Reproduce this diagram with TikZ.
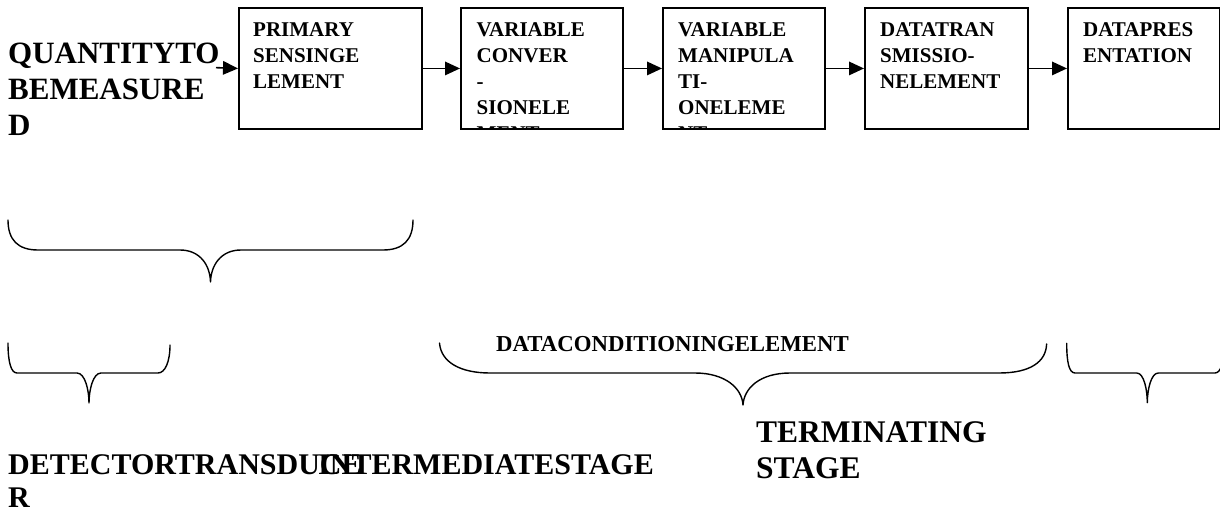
\documentclass[tikz,border=0pt]{standalone}
\usepackage{fontspec}
\setmainfont{Liberation Serif}
\usetikzlibrary{arrows.meta,calc}
\begin{document}
\begin{tikzpicture}[x=1pt,y=-1pt,
  blk/.style={draw, line width=1.6pt, rectangle, anchor=north west, minimum height=120.7pt, inner sep=0pt},
  boxtext/.style={anchor=north west, inner sep=0pt, align=left, font=\bfseries\fontsize{21}{26}\selectfont},
  bigtext/.style={anchor=north west, inner sep=0pt, align=left, font=\bfseries\fontsize{31}{36}\selectfont},
  flow/.style={line width=1.6pt, -{Triangle[length=15pt,width=13.5pt]}},
  brace/.style={line width=1.4pt, line cap=round, line join=round}]
\useasboundingbox (0,0) rectangle (1220,514);
\clip (0,0) rectangle (1220,514);
\fill[white] (0,0) rectangle (1220,514);

% boxes
\node[blk, minimum width=183pt] (b1) at (238,7.3) {};
\node[blk, minimum width=162pt] (b2) at (460,7.3) {};
\node[blk, minimum width=162pt] (b3) at (662,7.3) {};
\node[blk, minimum width=163pt] (b4) at (864,7.3) {};
\node[blk, minimum width=152pt] (b5) at (1067,7.3) {};

% box texts (clipped to their boxes)
\begin{scope}
\clip (b1.north west) rectangle (b1.south east);
\node[boxtext] (t1) at ($(b1.north west)+(15,15)$) {PRIMARY\\SENSINGE\\LEMENT};
\end{scope}
\begin{scope}
\clip (b2.north west) rectangle (b2.south east);
\node[boxtext] (t2) at ($(b2.north west)+(16.5,15)$) {VARIABLE\\CONVER\\-\\SIONELE\\MENT};
\end{scope}
\begin{scope}
\clip (b3.north west) rectangle (b3.south east);
\node[boxtext] (t3) at ($(b3.north west)+(16,15)$) {VARIABLE\\MANIPULA\\TI-\\ONELEME\\NT};
\end{scope}
\begin{scope}
\clip (b4.north west) rectangle (b4.south east);
\node[boxtext] (t4) at ($(b4.north west)+(16,15)$) {DATATRAN\\SMISSIO-\\NELEMENT};
\end{scope}
\begin{scope}
\clip (b5.north west) rectangle (b5.south east);
\node[boxtext] (t5) at ($(b5.north west)+(16,15)$) {DATAPRES\\ENTATION};
\end{scope}

% input label
\node[bigtext] (q) at (8,43) {QUANTITYTO\\BEMEASURE\\D};
\coordinate (qa) at (216,67.65);

% arrows
\draw[flow] (qa) -- (b1.west);
\draw[flow] (b1.east) -- (b2.west);
\draw[flow] (b2.east) -- (b3.west);
\draw[flow] (b3.east) -- (b4.west);
\draw[flow] (b4.east) -- (b5.west);

% big upper brace
\draw[brace] (8,220) .. controls (8,240) and (18,250) .. (38,250) -- (180,250)
  .. controls (200,250) and (210,265) .. (210.5,282)
  .. controls (211,265) and (221,250) .. (241,250) -- (383,250)
  .. controls (403,250) and (413,240) .. (413,220);

% small left brace
\draw[brace] (8,343) .. controls (8,362) and (11,373) .. (17,373) -- (77,373)
  .. controls (85,373) and (89,390) .. (89,403)
  .. controls (89,390) and (93,373) .. (101,373) -- (158,373)
  .. controls (165,373) and (170,362) .. (170,345);

% data conditioning brace
\draw[brace] (439.5,343) .. controls (441,362) and (460,373) .. (490,373) -- (695,373)
  .. controls (725,373) and (742,388) .. (743,405)
  .. controls (744,388) and (760,373) .. (790,373) -- (999,373)
  .. controls (1030,373) and (1046,362) .. (1046.6,344);

% small right brace
\draw[brace] (1066.7,343.3) .. controls (1066.7,362) and (1069,373) .. (1075,373) -- (1136.7,373)
  .. controls (1144,373) and (1147.3,390) .. (1147.3,402.7)
  .. controls (1147.3,390) and (1151,373) .. (1158.3,373) -- (1215,373)
  .. controls (1221,373) and (1224,362) .. (1224,343);

% labels
\node[anchor=base west, inner sep=0pt, font=\bfseries\fontsize{22.8}{26}\selectfont] (dc) at (496,351) {DATACONDITIONINGELEMENT};
\node[anchor=north west, inner sep=0pt, align=left, font=\bfseries\fontsize{30}{33}\selectfont] (det) at (8,454.5) {DETECTORTRANSDUCE\\R};
\node[anchor=base west, inner sep=0pt, font=\bfseries\fontsize{30}{34}\selectfont] (inter) at (318,474.5) {INTERMEDIATESTAGE};
\node[anchor=north west, inner sep=0pt, align=left, font=\bfseries\fontsize{31.5}{36.5}\selectfont] (term) at (756,421) {TERMINATING\\STAGE};
\end{tikzpicture}
\end{document}
